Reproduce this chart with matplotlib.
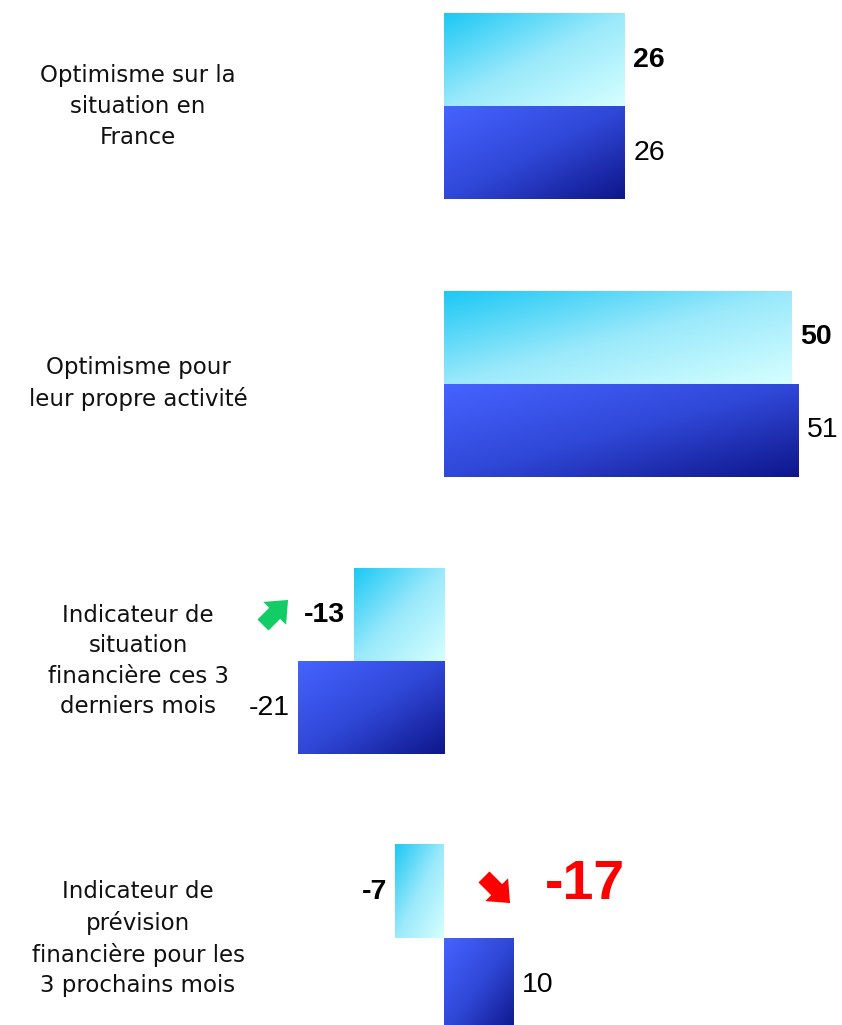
import numpy as np
import matplotlib
matplotlib.use("Agg")
import matplotlib.pyplot as plt
from matplotlib.colors import LinearSegmentedColormap
from matplotlib.patches import FancyArrowPatch

# ------------------------------------------------------------
# Données
# ------------------------------------------------------------
categories = [
    "Optimisme sur la\nsituation en\nFrance",
    "Optimisme pour\nleur propre activité",
    "Indicateur de\nsituation\nfinancière ces 3\nderniers mois",
    "Indicateur de\nprévision\nfinancière pour les\n3 prochains mois",
]
vague_actuelle = [26, 50, -13, -7]      # barres claires, valeurs en gras
vague_precedente = [26, 51, -21, 10]    # barres bleues

# ------------------------------------------------------------
# Figure
# ------------------------------------------------------------
W, H = 842, 1025
fig = plt.figure(figsize=(W / 100, H / 100), dpi=100)
ax = fig.add_axes([0, 0, 1, 1])

px_per_unit = 6.96
x0_px = 444
group_px = 277.3
first_center_px = 106.5
bar_h = 93 / group_px

cmap_clair = LinearSegmentedColormap.from_list("clair", ["#1cc8f4", "#9ae9fb", "#d6ffff"])
cmap_bleu = LinearSegmentedColormap.from_list("bleu", ["#4563ff", "#3048d8", "#0e168a"])

y = np.arange(len(categories))
bars_a = ax.barh(y - bar_h / 2, vague_actuelle, height=bar_h, color="none", linewidth=0)
bars_p = ax.barh(y + bar_h / 2, vague_precedente, height=bar_h, color="none", linewidth=0)

# dégradé diagonal dans chaque barre
u, v = np.meshgrid(np.linspace(0, 1, 200), np.linspace(0, 1, 200))
grad = (u + v) / 2
for bars, cm in [(bars_a, cmap_clair), (bars_p, cmap_bleu)]:
    for b in bars:
        x1, x2 = sorted([b.get_x(), b.get_x() + b.get_width()])
        yb, yt = b.get_y(), b.get_y() + b.get_height()
        ax.imshow(grad, cmap=cm, extent=(x1, x2, yt, yb), aspect="auto",
                  interpolation="bilinear", zorder=2)

# étiquettes de valeurs
for bars, vals, weight in [(bars_a, vague_actuelle, "bold"), (bars_p, vague_precedente, "normal")]:
    for b, val in zip(bars, vals):
        yc = b.get_y() + b.get_height() / 2
        off = 6 if val >= 0 else -6
        ax.annotate(str(val), xy=(val, yc), xytext=(off, 0), textcoords="offset points",
                    ha="left" if val >= 0 else "right", va="center",
                    fontsize=20.5, fontweight=weight, family="Liberation Sans", color="black")

# libellés des catégories
label_x = (138 - x0_px) / px_per_unit
for yi, cat in zip(y, categories):
    ax.text(label_x, yi, cat, ha="center", va="center", multialignment="center",
            fontsize=16.5, family="DejaVu Sans", linespacing=1.42, color="#111111")

# flèches d'évolution
def px(xp, yp):
    return ((xp - x0_px) / px_per_unit, (yp - first_center_px) / group_px)

style = "simple,head_width=1.45,head_length=0.85,tail_width=0.7"
fleche_up = FancyArrowPatch(px(261, 627), px(290, 598), arrowstyle=style,
                            mutation_scale=16, color="#12cc66", linewidth=0, zorder=3)
ax.add_patch(fleche_up)
fleche_down = FancyArrowPatch(px(482, 875), px(512, 905), arrowstyle=style,
                              mutation_scale=16, color="#ff0000", linewidth=0, zorder=3)
ax.add_patch(fleche_down)

ecart = vague_actuelle[3] - vague_precedente[3]
ax.text(px(585, 0)[0], y[3] - bar_h / 2 - 0.025, f"-{abs(ecart)}", ha="center", va="center",
        fontsize=40, fontweight="bold", family="Liberation Sans", color="#ff0000")

ax.set_xlim(-x0_px / px_per_unit, (W - x0_px) / px_per_unit)
ax.set_ylim((H - first_center_px) / group_px, -first_center_px / group_px)
ax.axis("off")

fig.savefig("out.png", dpi=100)
